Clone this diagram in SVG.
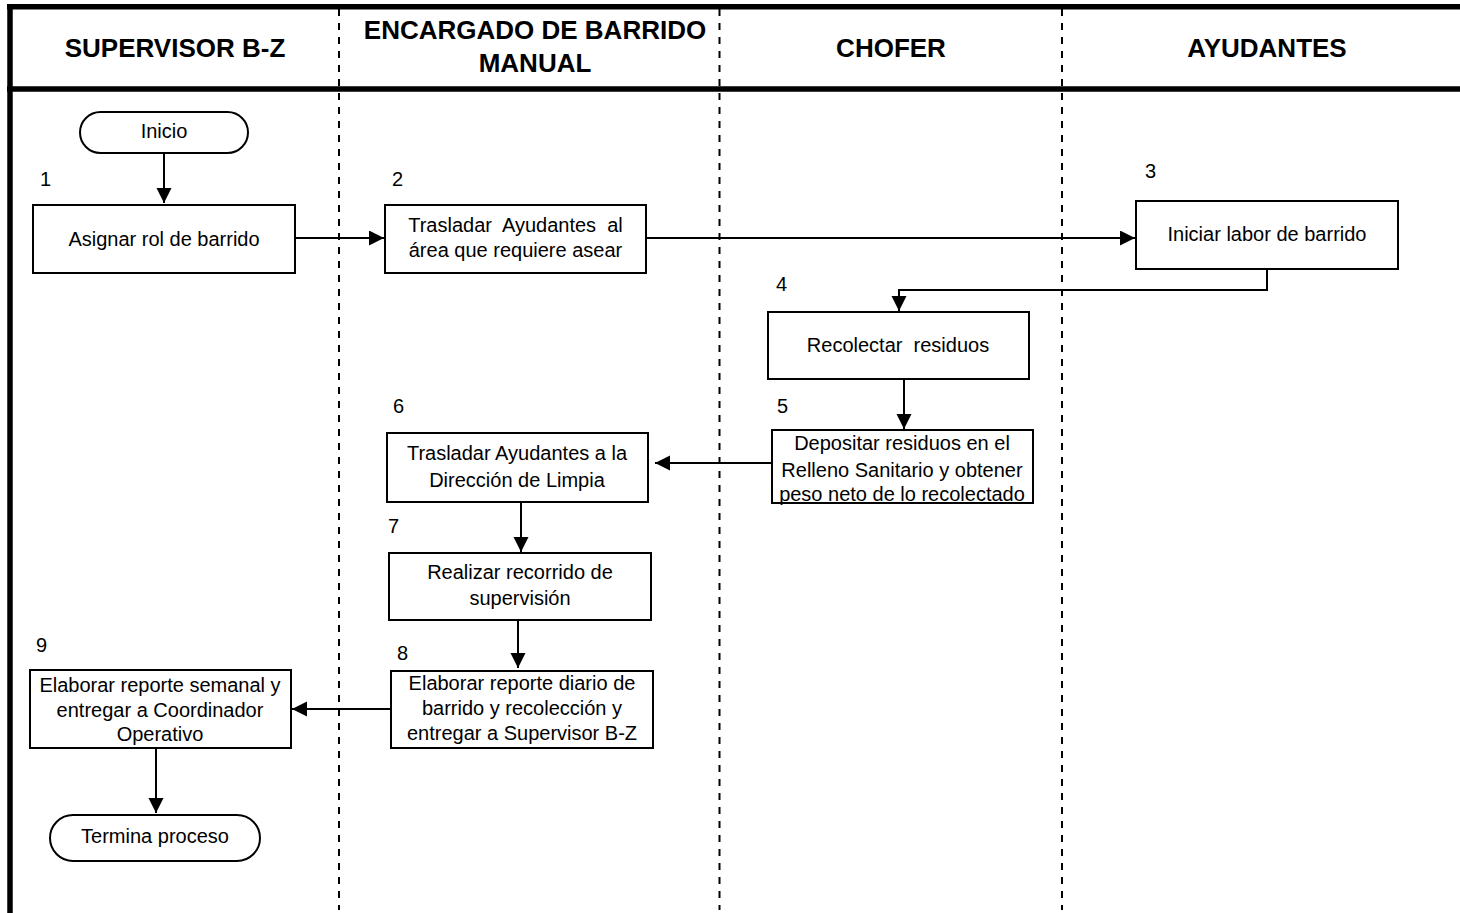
<svg xmlns="http://www.w3.org/2000/svg" width="1460" height="913" viewBox="0 0 1460 913">
  <defs>
    <marker id="arrow" markerUnits="userSpaceOnUse" markerWidth="16" markerHeight="16" refX="15" refY="7.5" orient="auto">
      <path d="M0,0 L15,7.5 L0,15 z" fill="#000"/>
    </marker>
    <style>
      .frame { stroke: #000; stroke-width: 5.5; fill: none; }
      .lane { stroke: #000; stroke-width: 2; stroke-dasharray: 7 7; fill: none; }
      .head { font-family: "Liberation Sans", Arial, sans-serif; font-size: 26px; font-weight: bold; fill: #000; text-anchor: middle; }
      .box { fill: #fff; stroke: #000; stroke-width: 2; }
      .txt { font-family: "Liberation Sans", Arial, sans-serif; font-size: 20px; fill: #000; text-anchor: middle; white-space: pre; }
      .num { font-family: "Liberation Sans", Arial, sans-serif; font-size: 20px; fill: #000; }
      .conn { stroke: #000; stroke-width: 2; fill: none; marker-end: url(#arrow); }
    </style>
  </defs>
  <rect width="1460" height="913" fill="#fff"/>

  <!-- swimlane frame -->
  <g id="lanes">
    <line class="frame" x1="7" y1="6.7" x2="1460" y2="6.7"/>
    <line class="frame" x1="7" y1="89" x2="1460" y2="89"/>
    <line class="frame" x1="10" y1="4" x2="10" y2="913"/>
    <line class="lane" x1="339" y1="9" x2="339" y2="910"/>
    <line class="lane" x1="719.5" y1="9" x2="719.5" y2="910"/>
    <line class="lane" x1="1062" y1="9" x2="1062" y2="910"/>
    <text class="head" x="175" y="57">SUPERVISOR B-Z</text>
    <text class="head" x="535" y="39">ENCARGADO DE BARRIDO</text>
    <text class="head" x="535" y="72">MANUAL</text>
    <text class="head" x="891" y="57">CHOFER</text>
    <text class="head" x="1267" y="57">AYUDANTES</text>
  </g>

  <!-- connectors -->
  <g id="connectors">
    <path class="conn" d="M164,153 V203"/>
    <path class="conn" d="M295,238 H384"/>
    <path class="conn" d="M646,238 H1135"/>
    <path class="conn" d="M1267,269 V290 H899 V311"/>
    <path class="conn" d="M904,379 V429"/>
    <path class="conn" d="M772,463 H655"/>
    <path class="conn" d="M521,502 V552"/>
    <path class="conn" d="M518,620 V668"/>
    <path class="conn" d="M391,709 H292"/>
    <path class="conn" d="M156,748 V813"/>
  </g>

  <g id="inicio">
    <rect class="box" x="80" y="112" width="168" height="41" rx="20.5"/>
    <text class="txt" x="164" y="138">Inicio</text>
  </g>

  <g id="step1">
    <text class="num" x="40" y="186">1</text>
    <rect class="box" x="33" y="205" width="262" height="68"/>
    <text class="txt" x="164" y="246">Asignar rol de barrido</text>
  </g>

  <g id="step2">
    <text class="num" x="392" y="186">2</text>
    <rect class="box" x="385" y="205" width="261" height="68"/>
    <text class="txt" x="515.5" y="232">Trasladar  Ayudantes  al</text>
    <text class="txt" x="515.5" y="257">área que requiere asear</text>
  </g>

  <g id="step3">
    <text class="num" x="1145" y="178">3</text>
    <rect class="box" x="1136" y="201" width="262" height="68"/>
    <text class="txt" x="1267" y="241">Iniciar labor de barrido</text>
  </g>

  <g id="step4">
    <text class="num" x="776" y="291">4</text>
    <rect class="box" x="768" y="312" width="261" height="67"/>
    <text class="txt" x="898" y="352">Recolectar  residuos</text>
  </g>

  <g id="step5">
    <text class="num" x="777" y="413">5</text>
    <rect class="box" x="772" y="430" width="261" height="73"/>
    <text class="txt" x="902" y="450">Depositar residuos en el</text>
    <text class="txt" x="902" y="477">Relleno Sanitario y obtener</text>
    <text class="txt" x="902" y="501">peso neto de lo recolectado</text>
  </g>

  <g id="step6">
    <text class="num" x="393" y="413">6</text>
    <rect class="box" x="387" y="433" width="261" height="69"/>
    <text class="txt" x="517" y="460">Trasladar Ayudantes a la</text>
    <text class="txt" x="517" y="487">Dirección de Limpia</text>
  </g>

  <g id="step7">
    <text class="num" x="388" y="533">7</text>
    <rect class="box" x="389" y="553" width="262" height="67"/>
    <text class="txt" x="520" y="579">Realizar recorrido de</text>
    <text class="txt" x="520" y="605">supervisión</text>
  </g>

  <g id="step8">
    <text class="num" x="397" y="660">8</text>
    <rect class="box" x="391" y="671" width="262" height="77"/>
    <text class="txt" x="522" y="690">Elaborar reporte diario de</text>
    <text class="txt" x="522" y="715">barrido y recolección y</text>
    <text class="txt" x="522" y="740">entregar a Supervisor B-Z</text>
  </g>

  <g id="step9">
    <text class="num" x="36" y="652">9</text>
    <rect class="box" x="30" y="670" width="261" height="78"/>
    <text class="txt" x="160" y="692">Elaborar reporte semanal y</text>
    <text class="txt" x="160" y="717">entregar a Coordinador</text>
    <text class="txt" x="160" y="741">Operativo</text>
  </g>

  <g id="fin">
    <rect class="box" x="50" y="815" width="210" height="46" rx="23"/>
    <text class="txt" x="155" y="843">Termina proceso</text>
  </g>
</svg>
